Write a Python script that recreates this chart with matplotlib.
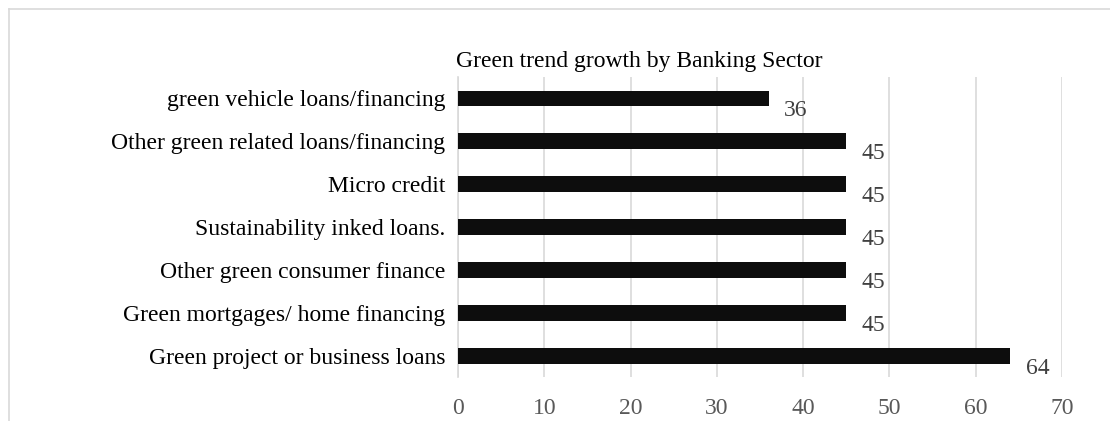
import matplotlib.pyplot as plt
from matplotlib.lines import Line2D

# data, top to bottom as in the chart
categories = [
    "green vehicle loans/financing",
    "Other green related loans/financing",
    "Micro credit",
    "Sustainability inked loans.",
    "Other green consumer finance",
    "Green mortgages/ home financing",
    "Green project or business loans",
]
values = [36, 45, 45, 45, 45, 45, 64]
xticks = [0, 10, 20, 30, 40, 50, 60, 70]
title = "Green trend growth by Banking Sector"

plt.rcParams['font.family'] = ['Liberation Serif', 'DejaVu Serif']

fig = plt.figure(figsize=(11.1, 4.21), dpi=100)
ax = fig.add_axes([458 / 1110, 1 - 377 / 421, (1062 - 458) / 1110, (377 - 77) / 421])

y = list(range(len(categories)))
ax.barh(y, values, height=0.37, color='#0d0d0d', zorder=3)

for yi, v in zip(y, values):
    ax.annotate(str(v), (v, yi), xytext=(11, -9), textcoords='offset points',
                ha='left', va='center', fontsize=17, color='#404040')

ax.set_ylim(len(categories) - 0.5, -0.5)
ax.set_xlim(0, 70)
ax.set_xticks(xticks)
ax.set_yticks(y)
ax.set_yticklabels(categories, fontsize=17, color='black')
ax.tick_params(axis='y', length=0, pad=9)
ax.tick_params(axis='x', length=0, pad=15, labelsize=17, labelcolor='#595959')
ax.grid(axis='x', color='#d9d9d9', linewidth=1.2, zorder=0)
for s in ['top', 'right', 'bottom']:
    ax.spines[s].set_visible(False)
ax.spines['left'].set_color('#d9d9d9')
ax.spines['left'].set_linewidth(1.2)

fig.text(639 / 1110, 1 - 62 / 421, title, ha='center', va='center', fontsize=17)

# chart-area border (top and left edges visible)
fig.add_artist(Line2D([9 / 1110, 1], [1 - 9 / 421, 1 - 9 / 421], color='#d9d9d9', lw=1.2))
fig.add_artist(Line2D([9 / 1110, 9 / 1110], [0, 1 - 9 / 421], color='#d9d9d9', lw=1.2))

fig.savefig('out.png', dpi=100)
